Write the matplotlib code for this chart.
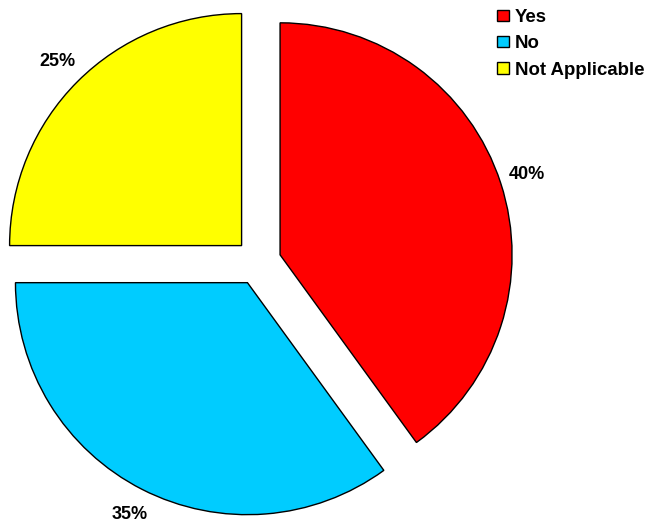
import matplotlib
matplotlib.use("Agg")
import matplotlib.pyplot as plt

labels = ["Yes", "No", "Not Applicable"]
shares = [40, 35, 25]
colors = ["#ff0000", "#00ccff", "#ffff00"]

plt.rcParams["font.family"] = ["Liberation Sans", "DejaVu Sans"]

fig = plt.figure(figsize=(6.48, 5.23), dpi=100)
ax = fig.add_axes([0, 0, 1, 1])

# pie radius ~232 px, centre at (258, 262) px
px = 232.0
cx, cy = 258.0, 262.0
ax.pie(
    shares,
    colors=colors,
    startangle=90,
    counterclock=False,
    explode=[0.1, 0.1, 0.1],
    autopct="%d%%",
    pctdistance=1.12,
    wedgeprops={"edgecolor": "black", "linewidth": 1},
    textprops={"fontsize": 13, "fontweight": "bold"},
)
ax.set_xlim(-cx / px, (648 - cx) / px)
ax.set_ylim(-(523 - cy) / px, cy / px)
ax.set_aspect("auto")
ax.axis("off")

ax.legend(
    labels,
    loc="upper left",
    bbox_to_anchor=(497 / 648, 1 - 9 / 523),
    bbox_transform=fig.transFigure,
    frameon=False,
    prop={"size": 13.4, "weight": "bold"},
    handlelength=0.65,
    handleheight=0.55,
    handletextpad=0.3,
    labelspacing=0.5,
    borderaxespad=0,
    borderpad=0,
)

fig.savefig("out.png", dpi=100)
